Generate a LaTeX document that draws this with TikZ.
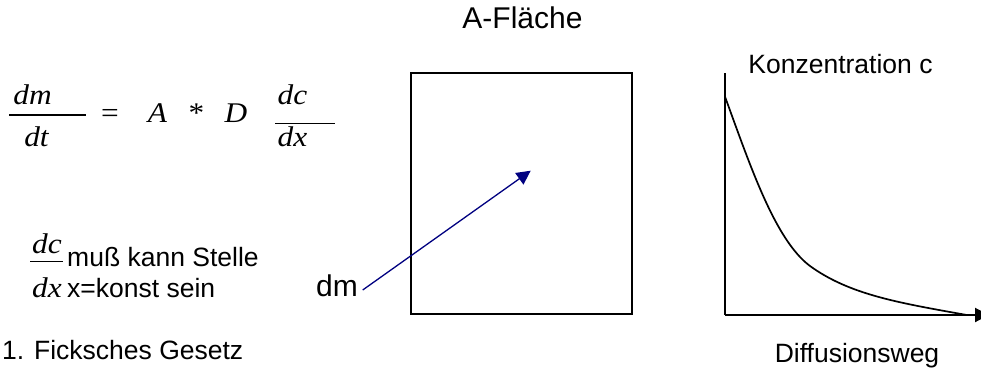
\documentclass[tikz,border=0pt]{standalone}
\usepackage{fontspec}
\setmainfont{Liberation Sans}
\newfontfamily\formelfont{Liberation Serif}[FakeStretch=1.1]
\usetikzlibrary{arrows.meta}

\tikzset{
  beschrift/.style={font=\fontsize{26.5}{30}\selectfont, inner sep=0pt},
  formel/.style={font=\fontsize{28.5}{32}\selectfont\formelfont\itshape, inner sep=0pt, anchor=base},
  zeichen/.style={font=\fontsize{28.5}{32}\selectfont\formelfont, inner sep=0pt, anchor=base},
  bruch/.style={line width=1.2pt},
  rahmen/.style={line width=2pt},
  achse/.style={line width=2pt},
  kurve/.style={line width=1.7pt}
}

\begin{document}
\begin{tikzpicture}[x=1pt,y=-1pt,>={Triangle[length=14pt,width=14pt]}]
\useasboundingbox (0,0) rectangle (981,371);

%--------------------
% Formel dm/dt = A * D dc/dx
%--------------------
\node[formel] (dm) at (32.5,105) {dm};
\node[formel] (dt) at (36.5,147) {dt};
\draw[bruch] (9,115) -- (86,115);
\node[zeichen] (gleich) at (110,123) {=};
\node[formel] (A) at (157.5,123) {A};
\node[zeichen] (mal) at (196.5,123) {*};
\node[formel] (D) at (236,123) {D};
\node[formel] (dc) at (292.5,105) {dc};
\node[formel] (dx) at (292.5,147) {dx};
\draw[bruch] (275,123.3) -- (335,123.3);

% dc/dx an fester Stelle
\node[formel] (dcB) at (47,253) {dc};
\node[formel] (dxB) at (47,297) {dx};
\draw[bruch] (30,261.7) -- (63,261.7);
\node[beschrift, anchor=base west] (stelle) at (67,266.7) {muß kann Stelle};
\node[beschrift, anchor=base west] (konst) at (67,297) {x=konst sein};

\node[beschrift, anchor=base west] (gesetz) at (2,359) {1. Ficksches Gesetz};

%--------------------
% Fläche A
%--------------------
\node[beschrift, font=\fontsize{30}{34}\selectfont, anchor=base] (flaeche) at (522.5,29) {A-Fläche};
\draw[rahmen] (410.7,73.3) rectangle (632,314.3);

% Massenstrom
\node[beschrift, font=\fontsize{30}{34}\selectfont, anchor=base east] (dmlabel) at (358,296.5) {dm};
\coordinate (dmtip) at (530.7,170.7);
\draw[->, line width=1.3pt, blue!50!black]
  ([shift={(4.7,-6.5)}]dmlabel.base east) -- (dmtip);

%--------------------
% Konzentrationsverlauf
%--------------------
\coordinate (ursprung) at (725,315);
\coordinate (ctop) at (725,73.3);
\coordinate (xend) at (989,315);
\draw[achse] (ctop) -- (ursprung);
\draw[achse, ->] (ursprung) -- (xend);

\draw[kurve] (725,96.7) .. controls (750,165) and (775,240) .. (810,266)
  .. controls (850,295) and (900,303) .. (966.7,315);

\node[beschrift, anchor=base] (konz) at (840.5,74) {Konzentration c};
\node[beschrift, anchor=base] (weg) at (857,362) {Diffusionsweg};

\end{tikzpicture}
\end{document}
